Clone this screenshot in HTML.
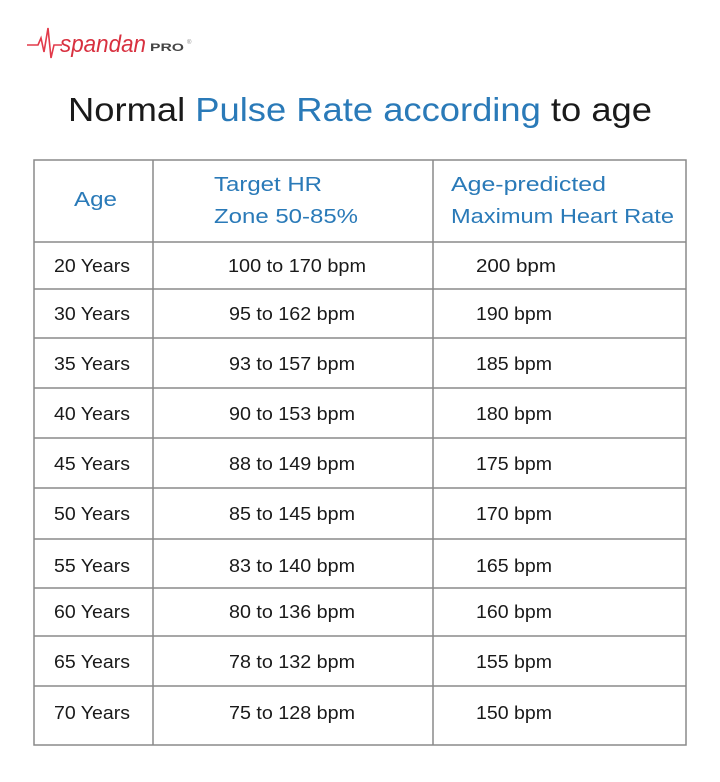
<!DOCTYPE html>
<html><head><meta charset="utf-8"><style>
html,body{margin:0;padding:0;background:#fff;}
svg{display:block}
text{font-family:"Liberation Sans",sans-serif;}
</style></head><body>
<svg width="720" height="782" viewBox="0 0 720 782">
<rect width="720" height="782" fill="#fff"/>
<path d="M27 45 H38 L41 38 L44 52 L48 28 L51 58 L54 45 H62" fill="none" stroke="#e23a4a" stroke-width="1.6"/>
<text x="60" y="52" font-family="Liberation Serif,serif" font-style="italic" font-size="24" fill="#d8303f" textLength="86" lengthAdjust="spacingAndGlyphs">spandan</text>
<text x="150" y="51" font-size="11" font-weight="bold" fill="#444" textLength="34" lengthAdjust="spacingAndGlyphs">PRO</text>
<text x="187" y="44" font-size="6" fill="#888">®</text>
<text x="68" y="121" font-size="33" fill="#1a1a1a" textLength="584" lengthAdjust="spacingAndGlyphs">Normal <tspan fill="#2a7ab8">Pulse Rate according</tspan> to age</text>
<g stroke="#8a8a8a" stroke-width="1.5" fill="none">
<rect x="34" y="160" width="652" height="585"/>
<line x1="153" y1="160" x2="153" y2="745"/>
<line x1="433" y1="160" x2="433" y2="745"/>
<line x1="34" y1="242" x2="686" y2="242"/>
<line x1="34" y1="289" x2="686" y2="289"/>
<line x1="34" y1="338" x2="686" y2="338"/>
<line x1="34" y1="388" x2="686" y2="388"/>
<line x1="34" y1="438" x2="686" y2="438"/>
<line x1="34" y1="488" x2="686" y2="488"/>
<line x1="34" y1="539" x2="686" y2="539"/>
<line x1="34" y1="588" x2="686" y2="588"/>
<line x1="34" y1="636" x2="686" y2="636"/>
<line x1="34" y1="686" x2="686" y2="686"/>
</g>
<g fill="#2a7ab8" font-size="20" lengthAdjust="spacingAndGlyphs">
<text x="74" y="206" textLength="43" lengthAdjust="spacingAndGlyphs">Age</text>
<text x="214" y="191" textLength="108" lengthAdjust="spacingAndGlyphs">Target HR</text>
<text x="214" y="223" textLength="144" lengthAdjust="spacingAndGlyphs">Zone 50-85%</text>
<text x="451" y="191" textLength="155" lengthAdjust="spacingAndGlyphs">Age-predicted</text>
<text x="451" y="223" textLength="223" lengthAdjust="spacingAndGlyphs">Maximum Heart Rate</text>
</g>
<g fill="#1a1a1a" font-size="18">
<text x="54" y="272" textLength="76" lengthAdjust="spacingAndGlyphs">20 Years</text><text x="228" y="272" textLength="138" lengthAdjust="spacingAndGlyphs">100 to 170 bpm</text><text x="476" y="272" textLength="80" lengthAdjust="spacingAndGlyphs">200 bpm</text>
<text x="54" y="320" textLength="76" lengthAdjust="spacingAndGlyphs">30 Years</text><text x="229" y="320" textLength="126" lengthAdjust="spacingAndGlyphs">95 to 162 bpm</text><text x="476" y="320" textLength="76" lengthAdjust="spacingAndGlyphs">190 bpm</text>
<text x="54" y="370" textLength="76" lengthAdjust="spacingAndGlyphs">35 Years</text><text x="229" y="370" textLength="126" lengthAdjust="spacingAndGlyphs">93 to 157 bpm</text><text x="476" y="370" textLength="76" lengthAdjust="spacingAndGlyphs">185 bpm</text>
<text x="54" y="420" textLength="76" lengthAdjust="spacingAndGlyphs">40 Years</text><text x="229" y="420" textLength="126" lengthAdjust="spacingAndGlyphs">90 to 153 bpm</text><text x="476" y="420" textLength="76" lengthAdjust="spacingAndGlyphs">180 bpm</text>
<text x="54" y="470" textLength="76" lengthAdjust="spacingAndGlyphs">45 Years</text><text x="229" y="470" textLength="126" lengthAdjust="spacingAndGlyphs">88 to 149 bpm</text><text x="476" y="470" textLength="76" lengthAdjust="spacingAndGlyphs">175 bpm</text>
<text x="54" y="520" textLength="76" lengthAdjust="spacingAndGlyphs">50 Years</text><text x="229" y="520" textLength="126" lengthAdjust="spacingAndGlyphs">85 to 145 bpm</text><text x="476" y="520" textLength="76" lengthAdjust="spacingAndGlyphs">170 bpm</text>
<text x="54" y="572" textLength="76" lengthAdjust="spacingAndGlyphs">55 Years</text><text x="229" y="572" textLength="126" lengthAdjust="spacingAndGlyphs">83 to 140 bpm</text><text x="476" y="572" textLength="76" lengthAdjust="spacingAndGlyphs">165 bpm</text>
<text x="54" y="618" textLength="76" lengthAdjust="spacingAndGlyphs">60 Years</text><text x="229" y="618" textLength="126" lengthAdjust="spacingAndGlyphs">80 to 136 bpm</text><text x="476" y="618" textLength="76" lengthAdjust="spacingAndGlyphs">160 bpm</text>
<text x="54" y="668" textLength="76" lengthAdjust="spacingAndGlyphs">65 Years</text><text x="229" y="668" textLength="126" lengthAdjust="spacingAndGlyphs">78 to 132 bpm</text><text x="476" y="668" textLength="76" lengthAdjust="spacingAndGlyphs">155 bpm</text>
<text x="54" y="719" textLength="76" lengthAdjust="spacingAndGlyphs">70 Years</text><text x="229" y="719" textLength="126" lengthAdjust="spacingAndGlyphs">75 to 128 bpm</text><text x="476" y="719" textLength="76" lengthAdjust="spacingAndGlyphs">150 bpm</text>
</g>
</svg>
</body></html>
